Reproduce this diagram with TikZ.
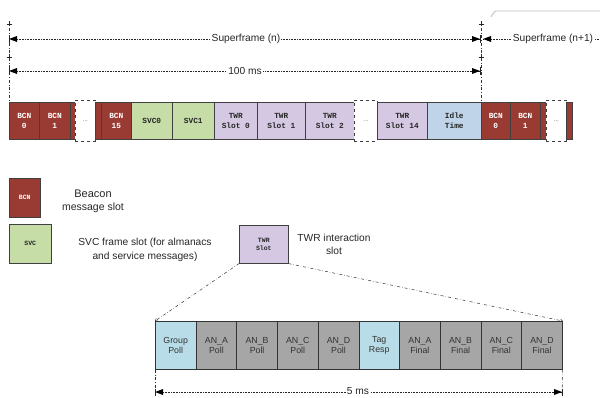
\documentclass[tikz,border=0pt]{standalone}
\usepackage{fontspec}
\setmainfont{Liberation Sans}
\newfontfamily\slotmono{Liberation Mono}
\usetikzlibrary{arrows.meta}
\definecolor{bcnred}{HTML}{9A3B33}
\definecolor{svcgreen}{HTML}{C6DDA8}
\definecolor{twrlav}{HTML}{D4C8E2}
\definecolor{idleblue}{HTML}{BFD4E8}
\definecolor{pollblue}{HTML}{B8DDE9}
\definecolor{angray}{HTML}{A6A6A6}
\begin{document}
\begin{tikzpicture}[x=1pt,y=-1pt,
  box/.style={draw=black!75,line width=0.6pt,anchor=north west,inner sep=0pt,
    minimum height=37pt,align=center,text=black!85,
    font=\slotmono\bfseries\fontsize{7.8}{9.5}\selectfont},
  bcn/.style={box,fill=bcnred,text=white},
  svc/.style={box,fill=svcgreen},
  twr/.style={box,fill=twrlav},
  idle/.style={box,fill=idleblue},
  sliver/.style={box,fill=bcnred},
  gap/.style={draw=black!75,dashed,line width=0.7pt,fill=white,anchor=north west,
    inner sep=0pt,minimum height=41pt,text=black!60,font=\fontsize{6}{7}\selectfont},
  sub/.style={draw=black!80,line width=0.7pt,anchor=north west,inner sep=0pt,
    minimum height=48pt,minimum width=40.7pt,align=center,text=black!80,
    font=\fontsize{8.8}{10.5}\selectfont},
  poll/.style={sub,fill=pollblue},
  an/.style={sub,fill=angray},
  dimline/.style={densely dotted,line width=0.6pt,black!85},
  guide/.style={dash dot,line width=0.5pt,black!80},
  lbl/.style={font=\fontsize{10}{12}\selectfont,text=black!85,align=center},
  dlbl/.style={font=\fontsize{10.2}{12}\selectfont,text=black!85,fill=white,inner sep=1pt}
]
\useasboundingbox (0,0) rectangle (600,398);

% top-right grey rule
\draw[black!25,line width=0.9pt] (491,16) to[out=-90,in=180] (496,11) -- (600,11);

% ---- top row ----
\node[bcn,minimum width=30pt] (b0) at (9,102) {BCN\\0};
\node[bcn,minimum width=31pt] (b1) at (39,102) {BCN\\1};
\node[sliver,minimum width=5pt] (s1) at (70,102) {};
\node[sliver,minimum width=6pt] (s2) at (95,102) {};
\node[gap,minimum width=20pt] (g1) at (75,100) {...};
\node[bcn,minimum width=30pt] (b15) at (101,102) {BCN\\15};
\node[svc,minimum width=41pt] (svc0) at (131,102) {SVC0};
\node[svc,minimum width=42pt] (svc1) at (172,102) {SVC1};
\node[twr,minimum width=43pt] (t0) at (214,102) {TWR\\Slot 0};
\node[twr,minimum width=48pt] (t1) at (257,102) {TWR\\Slot 1};
\node[twr,minimum width=49pt] (t2) at (305,102) {TWR\\Slot 2};
\node[gap,minimum width=23pt] (g2) at (354,100) {...};
\node[twr,minimum width=50pt] (t14) at (377,102) {TWR\\Slot 14};
\node[idle,minimum width=54pt] (idle) at (427,102) {Idle\\Time};
\node[bcn,minimum width=29pt] (nb0) at (481,102) {BCN\\0};
\node[bcn,minimum width=30pt] (nb1) at (510,102) {BCN\\1};
\node[sliver,minimum width=6pt] (s3) at (540,102) {};
\node[sliver,minimum width=6pt] (s4) at (566,102) {};
\node[gap,minimum width=20pt] (g3) at (546,100) {...};

% ---- guides and dimensions ----
\foreach \px/\py [count=\i] in {9/24,9/57,481/24,481/57}{
  \draw[black!85,line width=0.5pt] (\px-2.5,\py) -- (\px+2.5,\py) (\px,\py-2.5) -- (\px,\py+2.5);
}
\coordinate (gl) at (9,28);
\coordinate (gr) at (481,28);
\draw[guide] (gl) -- (b0.north west);
\draw[guide] (gr) -- (nb0.north west);

\coordinate (sfL) at (9,39);
\coordinate (sfR) at (480,39);
\coordinate (sf1L) at (483,39);
\coordinate (sf1R) at (600,39);
\coordinate (msL) at (9,71);
\coordinate (msR) at (480,71);
\draw[dimline] (sfL) -- (sfR);
\draw[dimline] (sf1L) -- (sf1R);
\draw[dimline] (msL) -- (msR);
% filled arrowheads
\foreach \c in {sfR,msR}{\fill[black] (\c) -- ++(-8,-3) -- ++(0,6) -- cycle;}
\foreach \c in {sfL,sf1L,msL}{\fill[black] (\c) -- ++(8,-3) -- ++(0,6) -- cycle;}
\foreach \c in {sfL,sfR,msL,msR}{\draw[black!85,line width=0.6pt] ([yshift=-4pt]\c) -- ([yshift=4pt]\c);}
\node[dlbl] (sfn) at (246,39) {Superframe (n)};
\node[dlbl] (sfn1) at (553,39) {Superframe (n+1)};
\node[dlbl] (ms100) at (245,71) {100 ms};

% ---- legend ----
\node[box,fill=bcnred,text=white,minimum width=31pt,minimum height=39pt,
  font=\slotmono\bfseries\fontsize{6.5}{8}\selectfont] (lbcn) at (9,178) {BCN};
\node[lbl,font=\fontsize{11}{12}\selectfont] (lbcnt) at (93,194) {Beacon};
\node[lbl,font=\fontsize{10.5}{12}\selectfont] (lbcnt2) at (93,208) {message slot};
\node[box,fill=svcgreen,minimum width=42pt,minimum height=39pt,
  font=\slotmono\bfseries\fontsize{6.5}{8}\selectfont] (lsvc) at (9,224) {SVC};
\node[lbl,font=\fontsize{10.2}{14}\selectfont] (lsvct) at (145,250) {SVC frame slot (for almanacs\\and service messages)};
\node[box,fill=twrlav,minimum width=49pt,minimum height=38pt,
  font=\slotmono\bfseries\fontsize{6.5}{8}\selectfont] (ltwr) at (239,225) {TWR\\Slot};
\node[lbl,font=\fontsize{10.2}{13}\selectfont] (ltwrt) at (334,244) {TWR interaction\\slot};

% ---- bottom row ----
\node[poll] (gp) at (155,321) {Group\\Poll};
\node[an] (pa) at (195.7,321) {AN\_A\\Poll};
\node[an] (pb) at (236.4,321) {AN\_B\\Poll};
\node[an] (pc) at (277.1,321) {AN\_C\\Poll};
\node[an] (pd) at (317.8,321) {AN\_D\\Poll};
\node[poll] (tr) at (358.5,321) {Tag\\Resp};
\node[an] (fa) at (399.2,321) {AN\_A\\Final};
\node[an] (fb) at (439.9,321) {AN\_B\\Final};
\node[an] (fc) at (480.6,321) {AN\_C\\Final};
\node[an] (fd) at (521.3,321) {AN\_D\\Final};

\draw[guide,-{To[length=2.5pt,width=3pt]}] (ltwr.south west) -- (gp.north west);
\draw[guide,-{To[length=2.5pt,width=3pt]}] (ltwr.south east) -- (fd.north east);

\coordinate (bl) at (155,396);
\coordinate (br) at (562,396);
\draw[guide] (gp.south west) -- (bl);
\draw[guide] (fd.south east) -- (br);
\coordinate (fmL) at (155,392);
\coordinate (fmR) at (562,392);
\draw[dimline] (fmL) -- (fmR);
\fill[black] (fmR) -- ++(-8,-3) -- ++(0,6) -- cycle;
\fill[black] (fmL) -- ++(8,-3) -- ++(0,6) -- cycle;
\foreach \c in {fmL,fmR}{\draw[black!85,line width=0.6pt] ([yshift=-4pt]\c) -- ([yshift=3pt]\c);}
\node[dlbl] (ms5) at (358,391) {5 ms};
\end{tikzpicture}
\end{document}
